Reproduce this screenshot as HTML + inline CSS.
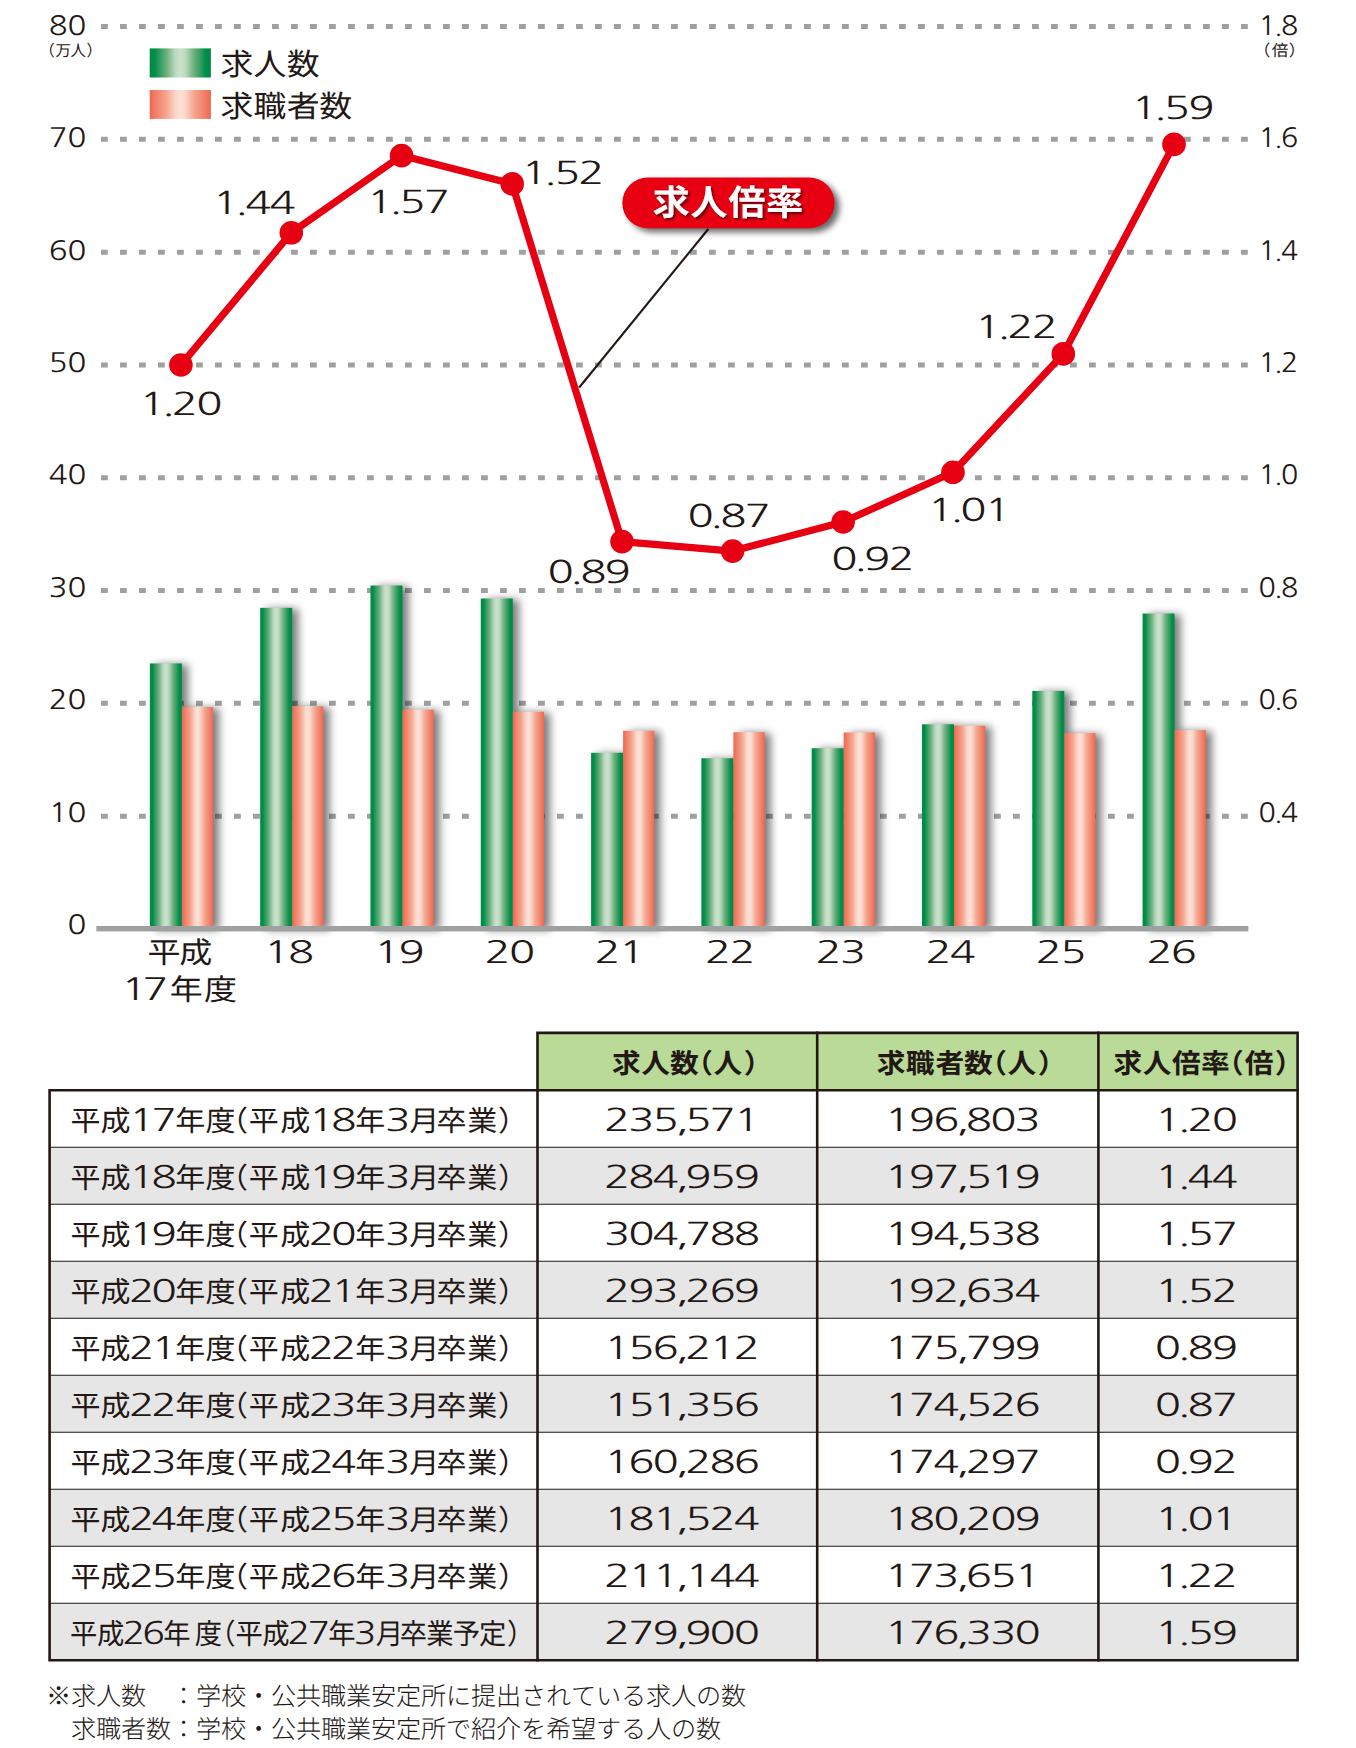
<!DOCTYPE html>
<html lang="ja">
<head>
<meta charset="utf-8">
<title>求人数・求職者数・求人倍率の推移</title>
<style>
html,body{margin:0;padding:0;background:#fff;}
body{width:1356px;height:1748px;overflow:hidden;}
svg{display:block;}
text{white-space:pre;text-rendering:geometricPrecision;}
</style>
</head>
<body>
<svg width="1356" height="1748" viewBox="0 0 1356 1748">
<defs>
<linearGradient id="gg" x1="0" x2="1" y1="0" y2="0">
<stop offset="0" stop-color="#008b45"/><stop offset="0.08" stop-color="#008d48"/><stop offset="0.28" stop-color="#6fb080"/><stop offset="0.42" stop-color="#bcdabf"/><stop offset="0.5" stop-color="#cbe2cb"/><stop offset="0.58" stop-color="#bcdabf"/><stop offset="0.72" stop-color="#6fb080"/><stop offset="0.92" stop-color="#008d48"/><stop offset="1" stop-color="#008b45"/>
</linearGradient>
<linearGradient id="go" x1="0" x2="1" y1="0" y2="0">
<stop offset="0" stop-color="#ee6850"/><stop offset="0.28" stop-color="#f5a790"/><stop offset="0.42" stop-color="#fbd6ca"/><stop offset="0.5" stop-color="#fde1d7"/><stop offset="0.58" stop-color="#fbd6ca"/><stop offset="0.72" stop-color="#f5a790"/><stop offset="1" stop-color="#ee6850"/>
</linearGradient>
<filter id="sh" x="-50%" y="-10%" width="220%" height="120%">
<feGaussianBlur in="SourceAlpha" stdDeviation="4.4"/><feOffset dx="5.5" dy="1"/>
<feComponentTransfer><feFuncA type="linear" slope="0.52"/></feComponentTransfer>
</filter>
<filter id="psh" x="-20%" y="-40%" width="140%" height="200%">
<feGaussianBlur in="SourceAlpha" stdDeviation="3.2"/><feOffset dx="4.5" dy="3.5"/>
<feComponentTransfer><feFuncA type="linear" slope="0.6"/></feComponentTransfer>
</filter>
<filter id="tsh" x="-10%" y="-20%" width="130%" height="150%">
<feGaussianBlur in="SourceAlpha" stdDeviation="0.8"/><feOffset dx="1.6" dy="1.6"/>
<feComponentTransfer><feFuncA type="linear" slope="0.55"/></feComponentTransfer>
<feMerge><feMergeNode/><feMergeNode in="SourceGraphic"/></feMerge>
</filter>
</defs>
<rect width="1356" height="1748" fill="#fff"/>
<g stroke="#9fa0a0" stroke-width="5" stroke-dasharray="6.8 12.2" fill="none">
<path d="M101 26.55 H1248.5"/>
<path d="M101 139.35 H1248.5"/>
<path d="M101 252.15 H1248.5"/>
<path d="M101 364.95 H1248.5"/>
<path d="M101 477.75 H1248.5"/>
<path d="M101 590.55 H1248.5"/>
<path d="M101 703.35 H1248.5"/>
<path d="M101 816.15 H1248.5"/>
</g>
<g filter="url(#sh)">
<rect x="149.9" y="663.45" width="32" height="265.25" fill="#000"/>
<rect x="181.9" y="707.1" width="31.2" height="221.6" fill="#000"/>
<rect x="260.2" y="607.84" width="32" height="320.86" fill="#000"/>
<rect x="292.2" y="706.29" width="31.2" height="222.41" fill="#000"/>
<rect x="370.5" y="585.51" width="32" height="343.19" fill="#000"/>
<rect x="402.5" y="709.65" width="31.2" height="219.05" fill="#000"/>
<rect x="480.8" y="598.48" width="32" height="330.22" fill="#000"/>
<rect x="512.8" y="711.79" width="31.2" height="216.91" fill="#000"/>
<rect x="591.1" y="752.81" width="32" height="175.89" fill="#000"/>
<rect x="623.1" y="730.75" width="31.2" height="197.95" fill="#000"/>
<rect x="701.4" y="758.27" width="32" height="170.43" fill="#000"/>
<rect x="733.4" y="732.18" width="31.2" height="196.52" fill="#000"/>
<rect x="811.7" y="748.22" width="32" height="180.48" fill="#000"/>
<rect x="843.7" y="732.44" width="31.2" height="196.26" fill="#000"/>
<rect x="922" y="724.3" width="32" height="204.4" fill="#000"/>
<rect x="954" y="725.78" width="31.2" height="202.92" fill="#000"/>
<rect x="1032.3" y="690.95" width="32" height="237.75" fill="#000"/>
<rect x="1064.3" y="733.17" width="31.2" height="195.53" fill="#000"/>
<rect x="1142.6" y="613.53" width="32" height="315.17" fill="#000"/>
<rect x="1174.6" y="730.15" width="31.2" height="198.55" fill="#000"/>
</g>
<g>
<rect x="149.9" y="663.45" width="32" height="265.25" fill="url(#gg)"/>
<rect x="181.9" y="707.1" width="31.2" height="221.6" fill="url(#go)"/>
<rect x="260.2" y="607.84" width="32" height="320.86" fill="url(#gg)"/>
<rect x="292.2" y="706.29" width="31.2" height="222.41" fill="url(#go)"/>
<rect x="370.5" y="585.51" width="32" height="343.19" fill="url(#gg)"/>
<rect x="402.5" y="709.65" width="31.2" height="219.05" fill="url(#go)"/>
<rect x="480.8" y="598.48" width="32" height="330.22" fill="url(#gg)"/>
<rect x="512.8" y="711.79" width="31.2" height="216.91" fill="url(#go)"/>
<rect x="591.1" y="752.81" width="32" height="175.89" fill="url(#gg)"/>
<rect x="623.1" y="730.75" width="31.2" height="197.95" fill="url(#go)"/>
<rect x="701.4" y="758.27" width="32" height="170.43" fill="url(#gg)"/>
<rect x="733.4" y="732.18" width="31.2" height="196.52" fill="url(#go)"/>
<rect x="811.7" y="748.22" width="32" height="180.48" fill="url(#gg)"/>
<rect x="843.7" y="732.44" width="31.2" height="196.26" fill="url(#go)"/>
<rect x="922" y="724.3" width="32" height="204.4" fill="url(#gg)"/>
<rect x="954" y="725.78" width="31.2" height="202.92" fill="url(#go)"/>
<rect x="1032.3" y="690.95" width="32" height="237.75" fill="url(#gg)"/>
<rect x="1064.3" y="733.17" width="31.2" height="195.53" fill="url(#go)"/>
<rect x="1142.6" y="613.53" width="32" height="315.17" fill="url(#gg)"/>
<rect x="1174.6" y="730.15" width="31.2" height="198.55" fill="url(#go)"/>
</g>
<rect x="96.4" y="926" width="1152" height="5.4" fill="#9fa0a0"/>
<rect x="149.7" y="48.4" width="61.2" height="29.1" fill="url(#gg)"/>
<rect x="149.7" y="90" width="61.2" height="28.9" fill="url(#go)"/>
<path d="M708.3 229 L579.2 387.5" stroke="#231815" stroke-width="2.1" fill="none"/>
<polyline points="180.9,365 291.3,232.8 401.6,155.6 512.2,183.9 622,541.6 732.6,551.1 843.1,522 953,472.3 1063.3,353.9 1174,144.4" fill="none" stroke="#e60012" stroke-width="7.2" stroke-linejoin="round"/>
<circle cx="180.9" cy="365" r="11.8" fill="#e60012"/>
<circle cx="291.3" cy="232.8" r="11.8" fill="#e60012"/>
<circle cx="401.6" cy="155.6" r="11.8" fill="#e60012"/>
<circle cx="512.2" cy="183.9" r="11.8" fill="#e60012"/>
<circle cx="622" cy="541.6" r="11.8" fill="#e60012"/>
<circle cx="732.6" cy="551.1" r="11.8" fill="#e60012"/>
<circle cx="843.1" cy="522" r="11.8" fill="#e60012"/>
<circle cx="953" cy="472.3" r="11.8" fill="#e60012"/>
<circle cx="1063.3" cy="353.9" r="11.8" fill="#e60012"/>
<circle cx="1174" cy="144.4" r="11.8" fill="#e60012"/>
<rect x="622.3" y="177.6" width="212.2" height="50.7" rx="25.35" fill="#000" filter="url(#psh)"/>
<rect x="622.3" y="177.6" width="212.2" height="50.7" rx="25.35" fill="#e60012"/>
<text transform="scale(1.06,1)" x="615.68 651.26 686.99 722.69" y="215.1" font-family="'Liberation Sans','Noto Sans CJK JP',IPAGothic,sans-serif" font-size="35.2" font-weight="700" fill="#fff" filter="url(#tsh)">求人倍率</text>
<text transform="scale(1.38,1)" x="100.85 117.25 124.54 142.15" y="414.6" font-family="NanumGothic,'Liberation Sans',sans-serif" font-size="31.4" fill="#231815">1.20</text>
<text transform="scale(1.38,1)" x="153.96 170.36 177.66 195.27" y="214" font-family="NanumGothic,'Liberation Sans',sans-serif" font-size="31.4" fill="#231815">1.44</text>
<text transform="scale(1.38,1)" x="265.7 282.1 289.4 307.01" y="213.2" font-family="NanumGothic,'Liberation Sans',sans-serif" font-size="31.4" fill="#231815">1.57</text>
<text transform="scale(1.38,1)" x="377.66 394.06 401.36 418.96" y="183.9" font-family="NanumGothic,'Liberation Sans',sans-serif" font-size="31.4" fill="#231815">1.52</text>
<text transform="scale(1.38,1)" x="396.72 413.12 420.41 438.02" y="583.4" font-family="NanumGothic,'Liberation Sans',sans-serif" font-size="31.4" fill="#231815">0.89</text>
<text transform="scale(1.38,1)" x="498.17 514.57 521.86 539.47" y="527" font-family="NanumGothic,'Liberation Sans',sans-serif" font-size="31.4" fill="#231815">0.87</text>
<text transform="scale(1.38,1)" x="602.44 618.84 626.14 643.75" y="570" font-family="NanumGothic,'Liberation Sans',sans-serif" font-size="31.4" fill="#231815">0.92</text>
<text transform="scale(1.38,1)" x="672.15 688.55 695.85 713.46" y="520.7" font-family="NanumGothic,'Liberation Sans',sans-serif" font-size="31.4" fill="#231815">1.01</text>
<text transform="scale(1.38,1)" x="706.28 722.68 729.98 747.59" y="337.6" font-family="NanumGothic,'Liberation Sans',sans-serif" font-size="31.4" fill="#231815">1.22</text>
<text transform="scale(1.38,1)" x="819.69 836.09 843.38 860.99" y="119.3" font-family="NanumGothic,'Liberation Sans',sans-serif" font-size="31.4" fill="#231815">1.59</text>
<text transform="scale(1.166,1)" x="41.85 57.81" y="34.85" font-family="NanumGothic,'Liberation Sans',sans-serif" font-size="26.6" fill="#231815">80</text>
<text transform="scale(1.166,1)" x="41.85 57.81" y="147.25" font-family="NanumGothic,'Liberation Sans',sans-serif" font-size="26.6" fill="#231815">70</text>
<text transform="scale(1.166,1)" x="41.85 57.81" y="259.65" font-family="NanumGothic,'Liberation Sans',sans-serif" font-size="26.6" fill="#231815">60</text>
<text transform="scale(1.166,1)" x="41.85 57.81" y="372.05" font-family="NanumGothic,'Liberation Sans',sans-serif" font-size="26.6" fill="#231815">50</text>
<text transform="scale(1.166,1)" x="41.85 57.81" y="484.45" font-family="NanumGothic,'Liberation Sans',sans-serif" font-size="26.6" fill="#231815">40</text>
<text transform="scale(1.166,1)" x="41.85 57.81" y="596.85" font-family="NanumGothic,'Liberation Sans',sans-serif" font-size="26.6" fill="#231815">30</text>
<text transform="scale(1.166,1)" x="41.85 57.81" y="709.25" font-family="NanumGothic,'Liberation Sans',sans-serif" font-size="26.6" fill="#231815">20</text>
<text transform="scale(1.166,1)" x="41.85 57.81" y="821.65" font-family="NanumGothic,'Liberation Sans',sans-serif" font-size="26.6" fill="#231815">10</text>
<text transform="scale(1.166,1)" x="57.81" y="934.05" font-family="NanumGothic,'Liberation Sans',sans-serif" font-size="26.6" fill="#231815">0</text>
<text transform="scale(1.07,1)" x="1176.15 1190.75 1197.17" y="34.85" font-family="NanumGothic,'Liberation Sans',sans-serif" font-size="26.6" fill="#231815">1.8</text>
<text transform="scale(1.07,1)" x="1176.15 1190.75 1197.17" y="147.25" font-family="NanumGothic,'Liberation Sans',sans-serif" font-size="26.6" fill="#231815">1.6</text>
<text transform="scale(1.07,1)" x="1176.15 1190.75 1197.17" y="259.65" font-family="NanumGothic,'Liberation Sans',sans-serif" font-size="26.6" fill="#231815">1.4</text>
<text transform="scale(1.07,1)" x="1176.15 1190.75 1197.17" y="372.05" font-family="NanumGothic,'Liberation Sans',sans-serif" font-size="26.6" fill="#231815">1.2</text>
<text transform="scale(1.07,1)" x="1176.15 1190.75 1197.17" y="484.45" font-family="NanumGothic,'Liberation Sans',sans-serif" font-size="26.6" fill="#231815">1.0</text>
<text transform="scale(1.07,1)" x="1176.15 1190.75 1197.17" y="596.85" font-family="NanumGothic,'Liberation Sans',sans-serif" font-size="26.6" fill="#231815">0.8</text>
<text transform="scale(1.07,1)" x="1176.15 1190.75 1197.17" y="709.25" font-family="NanumGothic,'Liberation Sans',sans-serif" font-size="26.6" fill="#231815">0.6</text>
<text transform="scale(1.07,1)" x="1176.15 1190.75 1197.17" y="821.65" font-family="NanumGothic,'Liberation Sans',sans-serif" font-size="26.6" fill="#231815">0.4</text>
<text x="39.37 55.56 70.55 86.43" y="55.7" font-family="'Liberation Sans','Noto Sans CJK JP',IPAGothic,sans-serif" font-size="15.5" fill="#231815">（万人）</text>
<text transform="scale(1.06,1)" x="1182.76 1199.66 1215.92" y="55.7" font-family="'Liberation Sans','Noto Sans CJK JP',IPAGothic,sans-serif" font-size="15.7" fill="#231815">（倍）</text>
<text transform="scale(1.09,1)" x="202.37 232.67 263.01" y="74.6" font-family="'Liberation Sans','Noto Sans CJK JP',IPAGothic,sans-serif" font-size="30.2" fill="#231815">求人数</text>
<text transform="scale(1.09,1)" x="202.37 232.67 263.07 293.01" y="116.7" font-family="'Liberation Sans','Noto Sans CJK JP',IPAGothic,sans-serif" font-size="30.2" fill="#231815">求職者数</text>
<text transform="scale(1.12,1)" x="131.68 160.1" y="963" font-family="'Liberation Sans','Noto Sans CJK JP',IPAGothic,sans-serif" font-size="29.5" fill="#231815">平成</text>
<text y="1000" font-family="NanumGothic,'Liberation Sans',sans-serif" font-size="30.8" fill="#231815"><tspan x="120.93 142.33" textLength="52.26" lengthAdjust="spacingAndGlyphs">17</tspan><tspan x="169.71 203.98" y="1000.1" font-family="'Liberation Sans','Noto Sans CJK JP',IPAGothic,sans-serif" font-size="29.5" textLength="66.08" lengthAdjust="spacingAndGlyphs">年度</tspan></text>
<text transform="scale(1.4,1)" x="188.38 205.81" y="963.3" font-family="NanumGothic,'Liberation Sans',sans-serif" font-size="30.8" fill="#231815">18</text>
<text transform="scale(1.4,1)" x="267.17 284.6" y="963.3" font-family="NanumGothic,'Liberation Sans',sans-serif" font-size="30.8" fill="#231815">19</text>
<text transform="scale(1.4,1)" x="346.17 363.6" y="963.3" font-family="NanumGothic,'Liberation Sans',sans-serif" font-size="30.8" fill="#231815">20</text>
<text transform="scale(1.4,1)" x="424.6 442.02" y="963.3" font-family="NanumGothic,'Liberation Sans',sans-serif" font-size="30.8" fill="#231815">21</text>
<text transform="scale(1.4,1)" x="503.6 521.02" y="963.3" font-family="NanumGothic,'Liberation Sans',sans-serif" font-size="30.8" fill="#231815">22</text>
<text transform="scale(1.4,1)" x="582.52 599.95" y="963.3" font-family="NanumGothic,'Liberation Sans',sans-serif" font-size="30.8" fill="#231815">23</text>
<text transform="scale(1.4,1)" x="661.02 678.45" y="963.3" font-family="NanumGothic,'Liberation Sans',sans-serif" font-size="30.8" fill="#231815">24</text>
<text transform="scale(1.4,1)" x="739.81 757.24" y="963.3" font-family="NanumGothic,'Liberation Sans',sans-serif" font-size="30.8" fill="#231815">25</text>
<text transform="scale(1.4,1)" x="818.88 836.31" y="963.3" font-family="NanumGothic,'Liberation Sans',sans-serif" font-size="30.8" fill="#231815">26</text>
<rect x="537.5" y="1032.9" width="760.1" height="57.4" fill="#b9db97"/>
<rect x="49.6" y="1147.3" width="1248" height="57" fill="#e6e6e6"/>
<rect x="49.6" y="1261.3" width="1248" height="57" fill="#e6e6e6"/>
<rect x="49.6" y="1375.3" width="1248" height="57" fill="#e6e6e6"/>
<rect x="49.6" y="1489.3" width="1248" height="57" fill="#e6e6e6"/>
<rect x="49.6" y="1603.3" width="1248" height="57" fill="#e6e6e6"/>
<g stroke="#231815" stroke-width="1.1" fill="none">
<path d="M49.6 1147.3 H1297.6"/>
<path d="M49.6 1204.3 H1297.6"/>
<path d="M49.6 1261.3 H1297.6"/>
<path d="M49.6 1318.3 H1297.6"/>
<path d="M49.6 1375.3 H1297.6"/>
<path d="M49.6 1432.3 H1297.6"/>
<path d="M49.6 1489.3 H1297.6"/>
<path d="M49.6 1546.3 H1297.6"/>
<path d="M49.6 1603.3 H1297.6"/>
</g>
<g stroke="#231815" stroke-width="2.6" fill="none" stroke-linecap="square">
<path d="M49.6 1090.3 H537.5 V1032.9 H1297.6 V1660.3 H49.6 Z"/>
<path d="M537.5 1090.3 H1297.6"/>
<path d="M537.5 1090.3 V1660.3"/>
<path d="M817.2 1032.9 V1660.3"/>
<path d="M1098.4 1032.9 V1660.3"/>
</g>
<text transform="scale(1.06,1)" x="577.34 604.86 632.18 645.53 673.16 701.76" y="1073.2" font-family="'Liberation Sans','Noto Sans CJK JP',IPAGothic,sans-serif" font-size="27.1" font-weight="700" fill="#231815">求人数（人）</text>
<text transform="scale(1.06,1)" x="827.06 854.47 882.45 909.44 922.79 950.43 979.02" y="1073.2" font-family="'Liberation Sans','Noto Sans CJK JP',IPAGothic,sans-serif" font-size="27.1" font-weight="700" fill="#231815">求職者数（人）</text>
<text transform="scale(1.06,1)" x="1050.55 1077.97 1105.74 1133.04 1146.28 1174.23 1202.51" y="1073.2" font-family="'Liberation Sans','Noto Sans CJK JP',IPAGothic,sans-serif" font-size="27.1" font-weight="700" fill="#231815">求人倍率（倍）</text>
<text y="1130.9" font-family="'Liberation Sans','Noto Sans CJK JP',IPAGothic,sans-serif" font-size="28.6" fill="#231815"><tspan x="70.44 100.52" textLength="60.06" lengthAdjust="spacingAndGlyphs">平成</tspan><tspan x="128.93 151.23" font-family="NanumGothic,'Liberation Sans',sans-serif" font-size="31" textLength="51.1" lengthAdjust="spacingAndGlyphs">17</tspan><tspan x="175.36 205.57 217.93 248.74 280.32" textLength="150.15" lengthAdjust="spacingAndGlyphs">年度（平成</tspan><tspan x="308.73 331.03" font-family="NanumGothic,'Liberation Sans',sans-serif" font-size="31" textLength="51.1" lengthAdjust="spacingAndGlyphs">18</tspan><tspan x="355.16" textLength="30.03" lengthAdjust="spacingAndGlyphs">年</tspan><tspan x="384.93" font-family="NanumGothic,'Liberation Sans',sans-serif" font-size="31" textLength="25.55" lengthAdjust="spacingAndGlyphs">3</tspan><tspan x="409.23 436.48 467.39 498.12" textLength="120.12" lengthAdjust="spacingAndGlyphs">月卒業）</tspan></text>
<text transform="scale(1.38,1)" x="437.66 455.27 472.88 489.63 496.57 514.18 531.79" y="1130.9" font-family="NanumGothic,'Liberation Sans',sans-serif" font-size="31.4" fill="#231815">235,571</text>
<text transform="scale(1.38,1)" x="640.99 658.6 676.21 692.97 699.91 717.51 735.12" y="1130.9" font-family="NanumGothic,'Liberation Sans',sans-serif" font-size="31.4" fill="#231815">196,803</text>
<text transform="scale(1.38,1)" x="836.79 853.19 860.49 878.09" y="1130.9" font-family="NanumGothic,'Liberation Sans',sans-serif" font-size="31.4" fill="#231815">1.20</text>
<text y="1187.9" font-family="'Liberation Sans','Noto Sans CJK JP',IPAGothic,sans-serif" font-size="28.6" fill="#231815"><tspan x="70.44 100.52" textLength="60.06" lengthAdjust="spacingAndGlyphs">平成</tspan><tspan x="128.93 151.23" font-family="NanumGothic,'Liberation Sans',sans-serif" font-size="31" textLength="51.1" lengthAdjust="spacingAndGlyphs">18</tspan><tspan x="175.36 205.57 217.93 248.74 280.32" textLength="150.15" lengthAdjust="spacingAndGlyphs">年度（平成</tspan><tspan x="308.73 331.03" font-family="NanumGothic,'Liberation Sans',sans-serif" font-size="31" textLength="51.1" lengthAdjust="spacingAndGlyphs">19</tspan><tspan x="355.16" textLength="30.03" lengthAdjust="spacingAndGlyphs">年</tspan><tspan x="384.93" font-family="NanumGothic,'Liberation Sans',sans-serif" font-size="31" textLength="25.55" lengthAdjust="spacingAndGlyphs">3</tspan><tspan x="409.23 436.48 467.39 498.12" textLength="120.12" lengthAdjust="spacingAndGlyphs">月卒業）</tspan></text>
<text transform="scale(1.38,1)" x="437.66 455.27 472.88 489.63 496.57 514.18 531.79" y="1187.9" font-family="NanumGothic,'Liberation Sans',sans-serif" font-size="31.4" fill="#231815">284,959</text>
<text transform="scale(1.38,1)" x="640.99 658.6 676.21 692.97 699.91 717.51 735.12" y="1187.9" font-family="NanumGothic,'Liberation Sans',sans-serif" font-size="31.4" fill="#231815">197,519</text>
<text transform="scale(1.38,1)" x="836.79 853.19 860.49 878.09" y="1187.9" font-family="NanumGothic,'Liberation Sans',sans-serif" font-size="31.4" fill="#231815">1.44</text>
<text y="1244.9" font-family="'Liberation Sans','Noto Sans CJK JP',IPAGothic,sans-serif" font-size="28.6" fill="#231815"><tspan x="70.44 100.52" textLength="60.06" lengthAdjust="spacingAndGlyphs">平成</tspan><tspan x="128.93 151.23" font-family="NanumGothic,'Liberation Sans',sans-serif" font-size="31" textLength="51.1" lengthAdjust="spacingAndGlyphs">19</tspan><tspan x="175.36 205.57 217.93 248.74 280.32" textLength="150.15" lengthAdjust="spacingAndGlyphs">年度（平成</tspan><tspan x="308.73 331.03" font-family="NanumGothic,'Liberation Sans',sans-serif" font-size="31" textLength="51.1" lengthAdjust="spacingAndGlyphs">20</tspan><tspan x="355.16" textLength="30.03" lengthAdjust="spacingAndGlyphs">年</tspan><tspan x="384.93" font-family="NanumGothic,'Liberation Sans',sans-serif" font-size="31" textLength="25.55" lengthAdjust="spacingAndGlyphs">3</tspan><tspan x="409.23 436.48 467.39 498.12" textLength="120.12" lengthAdjust="spacingAndGlyphs">月卒業）</tspan></text>
<text transform="scale(1.38,1)" x="437.66 455.27 472.88 489.63 496.57 514.18 531.79" y="1244.9" font-family="NanumGothic,'Liberation Sans',sans-serif" font-size="31.4" fill="#231815">304,788</text>
<text transform="scale(1.38,1)" x="640.99 658.6 676.21 692.97 699.91 717.51 735.12" y="1244.9" font-family="NanumGothic,'Liberation Sans',sans-serif" font-size="31.4" fill="#231815">194,538</text>
<text transform="scale(1.38,1)" x="836.79 853.19 860.49 878.09" y="1244.9" font-family="NanumGothic,'Liberation Sans',sans-serif" font-size="31.4" fill="#231815">1.57</text>
<text y="1301.9" font-family="'Liberation Sans','Noto Sans CJK JP',IPAGothic,sans-serif" font-size="28.6" fill="#231815"><tspan x="70.44 100.52" textLength="60.06" lengthAdjust="spacingAndGlyphs">平成</tspan><tspan x="128.93 151.23" font-family="NanumGothic,'Liberation Sans',sans-serif" font-size="31" textLength="51.1" lengthAdjust="spacingAndGlyphs">20</tspan><tspan x="175.36 205.57 217.93 248.74 280.32" textLength="150.15" lengthAdjust="spacingAndGlyphs">年度（平成</tspan><tspan x="308.73 331.03" font-family="NanumGothic,'Liberation Sans',sans-serif" font-size="31" textLength="51.1" lengthAdjust="spacingAndGlyphs">21</tspan><tspan x="355.16" textLength="30.03" lengthAdjust="spacingAndGlyphs">年</tspan><tspan x="384.93" font-family="NanumGothic,'Liberation Sans',sans-serif" font-size="31" textLength="25.55" lengthAdjust="spacingAndGlyphs">3</tspan><tspan x="409.23 436.48 467.39 498.12" textLength="120.12" lengthAdjust="spacingAndGlyphs">月卒業）</tspan></text>
<text transform="scale(1.38,1)" x="437.66 455.27 472.88 489.63 496.57 514.18 531.79" y="1301.9" font-family="NanumGothic,'Liberation Sans',sans-serif" font-size="31.4" fill="#231815">293,269</text>
<text transform="scale(1.38,1)" x="640.99 658.6 676.21 692.97 699.91 717.51 735.12" y="1301.9" font-family="NanumGothic,'Liberation Sans',sans-serif" font-size="31.4" fill="#231815">192,634</text>
<text transform="scale(1.38,1)" x="836.79 853.19 860.49 878.09" y="1301.9" font-family="NanumGothic,'Liberation Sans',sans-serif" font-size="31.4" fill="#231815">1.52</text>
<text y="1358.9" font-family="'Liberation Sans','Noto Sans CJK JP',IPAGothic,sans-serif" font-size="28.6" fill="#231815"><tspan x="70.44 100.52" textLength="60.06" lengthAdjust="spacingAndGlyphs">平成</tspan><tspan x="128.93 151.23" font-family="NanumGothic,'Liberation Sans',sans-serif" font-size="31" textLength="51.1" lengthAdjust="spacingAndGlyphs">21</tspan><tspan x="175.36 205.57 217.93 248.74 280.32" textLength="150.15" lengthAdjust="spacingAndGlyphs">年度（平成</tspan><tspan x="308.73 331.03" font-family="NanumGothic,'Liberation Sans',sans-serif" font-size="31" textLength="51.1" lengthAdjust="spacingAndGlyphs">22</tspan><tspan x="355.16" textLength="30.03" lengthAdjust="spacingAndGlyphs">年</tspan><tspan x="384.93" font-family="NanumGothic,'Liberation Sans',sans-serif" font-size="31" textLength="25.55" lengthAdjust="spacingAndGlyphs">3</tspan><tspan x="409.23 436.48 467.39 498.12" textLength="120.12" lengthAdjust="spacingAndGlyphs">月卒業）</tspan></text>
<text transform="scale(1.38,1)" x="437.66 455.27 472.88 489.63 496.57 514.18 531.79" y="1358.9" font-family="NanumGothic,'Liberation Sans',sans-serif" font-size="31.4" fill="#231815">156,212</text>
<text transform="scale(1.38,1)" x="640.99 658.6 676.21 692.97 699.91 717.51 735.12" y="1358.9" font-family="NanumGothic,'Liberation Sans',sans-serif" font-size="31.4" fill="#231815">175,799</text>
<text transform="scale(1.38,1)" x="836.79 853.19 860.49 878.09" y="1358.9" font-family="NanumGothic,'Liberation Sans',sans-serif" font-size="31.4" fill="#231815">0.89</text>
<text y="1415.9" font-family="'Liberation Sans','Noto Sans CJK JP',IPAGothic,sans-serif" font-size="28.6" fill="#231815"><tspan x="70.44 100.52" textLength="60.06" lengthAdjust="spacingAndGlyphs">平成</tspan><tspan x="128.93 151.23" font-family="NanumGothic,'Liberation Sans',sans-serif" font-size="31" textLength="51.1" lengthAdjust="spacingAndGlyphs">22</tspan><tspan x="175.36 205.57 217.93 248.74 280.32" textLength="150.15" lengthAdjust="spacingAndGlyphs">年度（平成</tspan><tspan x="308.73 331.03" font-family="NanumGothic,'Liberation Sans',sans-serif" font-size="31" textLength="51.1" lengthAdjust="spacingAndGlyphs">23</tspan><tspan x="355.16" textLength="30.03" lengthAdjust="spacingAndGlyphs">年</tspan><tspan x="384.93" font-family="NanumGothic,'Liberation Sans',sans-serif" font-size="31" textLength="25.55" lengthAdjust="spacingAndGlyphs">3</tspan><tspan x="409.23 436.48 467.39 498.12" textLength="120.12" lengthAdjust="spacingAndGlyphs">月卒業）</tspan></text>
<text transform="scale(1.38,1)" x="437.66 455.27 472.88 489.63 496.57 514.18 531.79" y="1415.9" font-family="NanumGothic,'Liberation Sans',sans-serif" font-size="31.4" fill="#231815">151,356</text>
<text transform="scale(1.38,1)" x="640.99 658.6 676.21 692.97 699.91 717.51 735.12" y="1415.9" font-family="NanumGothic,'Liberation Sans',sans-serif" font-size="31.4" fill="#231815">174,526</text>
<text transform="scale(1.38,1)" x="836.79 853.19 860.49 878.09" y="1415.9" font-family="NanumGothic,'Liberation Sans',sans-serif" font-size="31.4" fill="#231815">0.87</text>
<text y="1472.9" font-family="'Liberation Sans','Noto Sans CJK JP',IPAGothic,sans-serif" font-size="28.6" fill="#231815"><tspan x="70.44 100.52" textLength="60.06" lengthAdjust="spacingAndGlyphs">平成</tspan><tspan x="128.93 151.23" font-family="NanumGothic,'Liberation Sans',sans-serif" font-size="31" textLength="51.1" lengthAdjust="spacingAndGlyphs">23</tspan><tspan x="175.36 205.57 217.93 248.74 280.32" textLength="150.15" lengthAdjust="spacingAndGlyphs">年度（平成</tspan><tspan x="308.73 331.03" font-family="NanumGothic,'Liberation Sans',sans-serif" font-size="31" textLength="51.1" lengthAdjust="spacingAndGlyphs">24</tspan><tspan x="355.16" textLength="30.03" lengthAdjust="spacingAndGlyphs">年</tspan><tspan x="384.93" font-family="NanumGothic,'Liberation Sans',sans-serif" font-size="31" textLength="25.55" lengthAdjust="spacingAndGlyphs">3</tspan><tspan x="409.23 436.48 467.39 498.12" textLength="120.12" lengthAdjust="spacingAndGlyphs">月卒業）</tspan></text>
<text transform="scale(1.38,1)" x="437.66 455.27 472.88 489.63 496.57 514.18 531.79" y="1472.9" font-family="NanumGothic,'Liberation Sans',sans-serif" font-size="31.4" fill="#231815">160,286</text>
<text transform="scale(1.38,1)" x="640.99 658.6 676.21 692.97 699.91 717.51 735.12" y="1472.9" font-family="NanumGothic,'Liberation Sans',sans-serif" font-size="31.4" fill="#231815">174,297</text>
<text transform="scale(1.38,1)" x="836.79 853.19 860.49 878.09" y="1472.9" font-family="NanumGothic,'Liberation Sans',sans-serif" font-size="31.4" fill="#231815">0.92</text>
<text y="1529.9" font-family="'Liberation Sans','Noto Sans CJK JP',IPAGothic,sans-serif" font-size="28.6" fill="#231815"><tspan x="70.44 100.52" textLength="60.06" lengthAdjust="spacingAndGlyphs">平成</tspan><tspan x="128.93 151.23" font-family="NanumGothic,'Liberation Sans',sans-serif" font-size="31" textLength="51.1" lengthAdjust="spacingAndGlyphs">24</tspan><tspan x="175.36 205.57 217.93 248.74 280.32" textLength="150.15" lengthAdjust="spacingAndGlyphs">年度（平成</tspan><tspan x="308.73 331.03" font-family="NanumGothic,'Liberation Sans',sans-serif" font-size="31" textLength="51.1" lengthAdjust="spacingAndGlyphs">25</tspan><tspan x="355.16" textLength="30.03" lengthAdjust="spacingAndGlyphs">年</tspan><tspan x="384.93" font-family="NanumGothic,'Liberation Sans',sans-serif" font-size="31" textLength="25.55" lengthAdjust="spacingAndGlyphs">3</tspan><tspan x="409.23 436.48 467.39 498.12" textLength="120.12" lengthAdjust="spacingAndGlyphs">月卒業）</tspan></text>
<text transform="scale(1.38,1)" x="437.66 455.27 472.88 489.63 496.57 514.18 531.79" y="1529.9" font-family="NanumGothic,'Liberation Sans',sans-serif" font-size="31.4" fill="#231815">181,524</text>
<text transform="scale(1.38,1)" x="640.99 658.6 676.21 692.97 699.91 717.51 735.12" y="1529.9" font-family="NanumGothic,'Liberation Sans',sans-serif" font-size="31.4" fill="#231815">180,209</text>
<text transform="scale(1.38,1)" x="836.79 853.19 860.49 878.09" y="1529.9" font-family="NanumGothic,'Liberation Sans',sans-serif" font-size="31.4" fill="#231815">1.01</text>
<text y="1586.9" font-family="'Liberation Sans','Noto Sans CJK JP',IPAGothic,sans-serif" font-size="28.6" fill="#231815"><tspan x="70.44 100.52" textLength="60.06" lengthAdjust="spacingAndGlyphs">平成</tspan><tspan x="128.93 151.23" font-family="NanumGothic,'Liberation Sans',sans-serif" font-size="31" textLength="51.1" lengthAdjust="spacingAndGlyphs">25</tspan><tspan x="175.36 205.57 217.93 248.74 280.32" textLength="150.15" lengthAdjust="spacingAndGlyphs">年度（平成</tspan><tspan x="308.73 331.03" font-family="NanumGothic,'Liberation Sans',sans-serif" font-size="31" textLength="51.1" lengthAdjust="spacingAndGlyphs">26</tspan><tspan x="355.16" textLength="30.03" lengthAdjust="spacingAndGlyphs">年</tspan><tspan x="384.93" font-family="NanumGothic,'Liberation Sans',sans-serif" font-size="31" textLength="25.55" lengthAdjust="spacingAndGlyphs">3</tspan><tspan x="409.23 436.48 467.39 498.12" textLength="120.12" lengthAdjust="spacingAndGlyphs">月卒業）</tspan></text>
<text transform="scale(1.38,1)" x="437.66 455.27 472.88 489.63 496.57 514.18 531.79" y="1586.9" font-family="NanumGothic,'Liberation Sans',sans-serif" font-size="31.4" fill="#231815">211,144</text>
<text transform="scale(1.38,1)" x="640.99 658.6 676.21 692.97 699.91 717.51 735.12" y="1586.9" font-family="NanumGothic,'Liberation Sans',sans-serif" font-size="31.4" fill="#231815">173,651</text>
<text transform="scale(1.38,1)" x="836.79 853.19 860.49 878.09" y="1586.9" font-family="NanumGothic,'Liberation Sans',sans-serif" font-size="31.4" fill="#231815">1.22</text>
<text y="1643.9" font-family="'Liberation Sans','Noto Sans CJK JP',IPAGothic,sans-serif" font-size="28.6" fill="#231815"><tspan x="70.08 97.02" textLength="54.63" lengthAdjust="spacingAndGlyphs">平成</tspan><tspan x="122.53 142.28" font-family="NanumGothic,'Liberation Sans',sans-serif" font-size="31" textLength="45.46" lengthAdjust="spacingAndGlyphs">26</tspan><tspan x="163.19 194.75 208.32 235.58 262.32" textLength="136.56" lengthAdjust="spacingAndGlyphs">年度（平成</tspan><tspan x="287.63 307.58" font-family="NanumGothic,'Liberation Sans',sans-serif" font-size="31" textLength="45.46" lengthAdjust="spacingAndGlyphs">27</tspan><tspan x="328.29" textLength="27.31" lengthAdjust="spacingAndGlyphs">年</tspan><tspan x="353.78" font-family="NanumGothic,'Liberation Sans',sans-serif" font-size="31" textLength="22.73" lengthAdjust="spacingAndGlyphs">3</tspan><tspan x="375.71 399.73 426.29 452.85 479.04 507.04" textLength="163.88" lengthAdjust="spacingAndGlyphs">月卒業予定）</tspan></text>
<text transform="scale(1.38,1)" x="437.66 455.27 472.88 489.63 496.57 514.18 531.79" y="1643.9" font-family="NanumGothic,'Liberation Sans',sans-serif" font-size="31.4" fill="#231815">279,900</text>
<text transform="scale(1.38,1)" x="640.99 658.6 676.21 692.97 699.91 717.51 735.12" y="1643.9" font-family="NanumGothic,'Liberation Sans',sans-serif" font-size="31.4" fill="#231815">176,330</text>
<text transform="scale(1.38,1)" x="836.79 853.19 860.49 878.09" y="1643.9" font-family="NanumGothic,'Liberation Sans',sans-serif" font-size="31.4" fill="#231815">1.59</text>
<text x="45.9 70.9 95.9 120.9 145.9 170.9 195.9 220.9 245.9 270.9 295.9 320.9 345.9 370.9 395.9 420.9 445.9 470.9 495.9 520.9 545.9 570.9 595.9 620.9 645.9 670.9 695.9 720.9" y="1705.4" font-family="'Liberation Sans','Noto Sans CJK JP',IPAGothic,sans-serif" font-size="25.2" font-weight="300" fill="#231815">※求人数　：学校・公共職業安定所に提出されている求人の数</text>
<text x="70.9 95.9 120.9 145.9 170.9 195.9 220.9 245.9 270.9 295.9 320.9 345.9 370.9 395.9 420.9 445.9 470.9 495.9 520.9 545.9 570.9 595.9 620.9 645.9 670.9 695.9" y="1738.1" font-family="'Liberation Sans','Noto Sans CJK JP',IPAGothic,sans-serif" font-size="25.2" font-weight="300" fill="#231815">求職者数：学校・公共職業安定所で紹介を希望する人の数</text>
</svg>
</body>
</html>
